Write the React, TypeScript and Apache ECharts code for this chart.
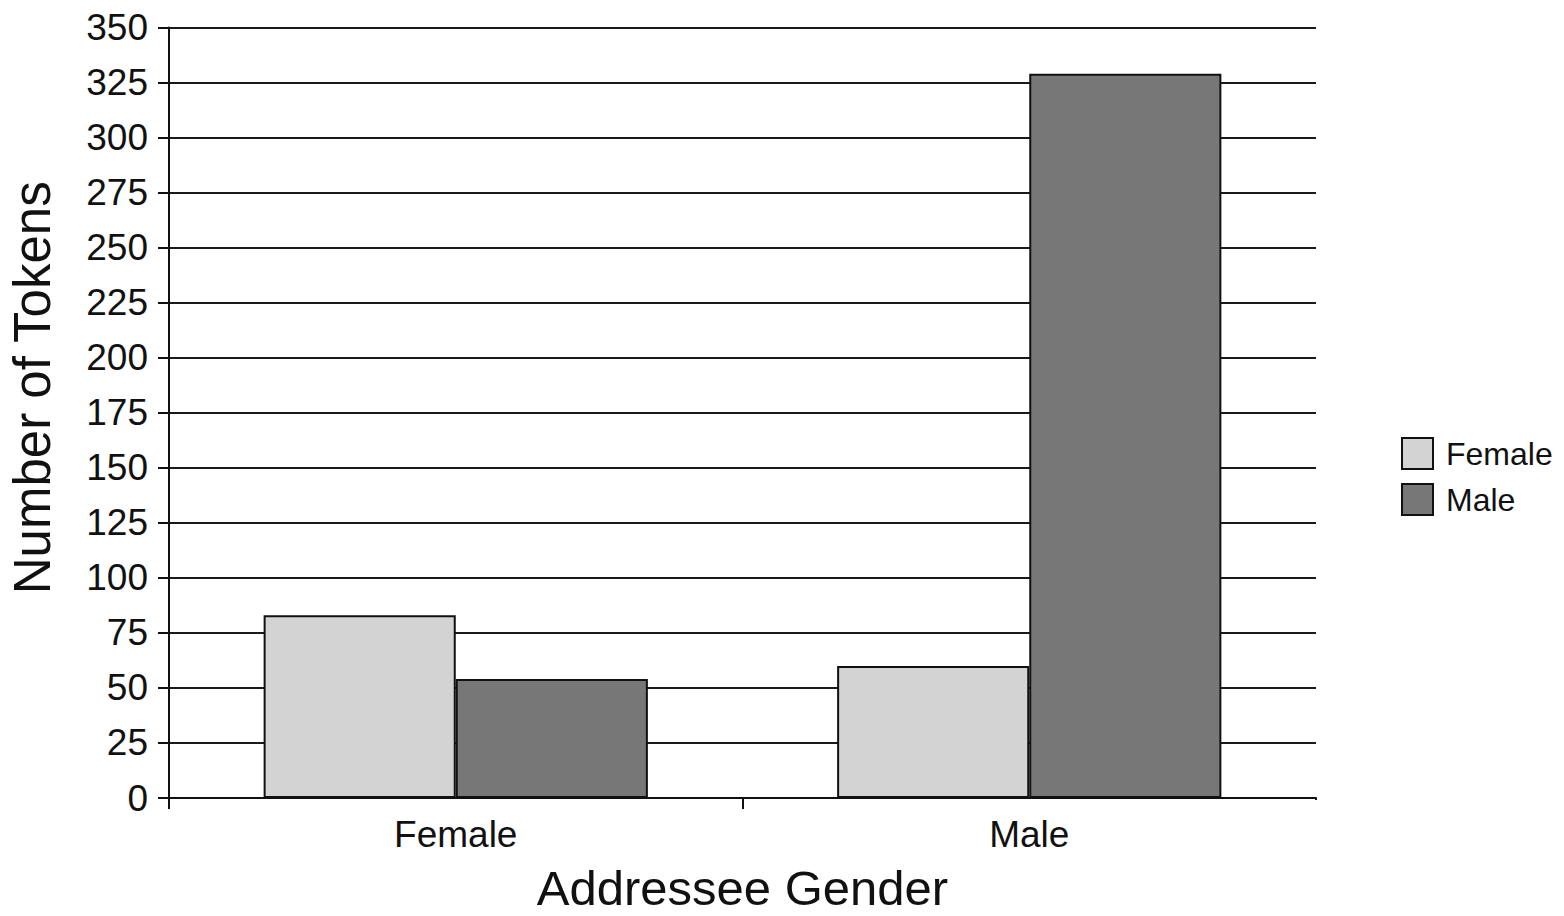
import React, { useEffect, useRef } from "react";
import * as echarts from "echarts";

const categories = ["Female", "Male"];
const seriesNames = ["Female", "Male"];
const femaleValues = [83, 60];
const maleValues = [54, 329];
const yMin = 0;
const yMax = 350;
const yInterval = 25;
const xAxisTitle = "Addressee Gender";
const yAxisTitle = "Number of Tokens";

const FONT = "'Liberation Sans', Arial, sans-serif";

export default function App() {
  const ref = useRef<HTMLDivElement>(null);
  useEffect(() => {
    if (!ref.current) return;
    const chart = echarts.init(ref.current, undefined, { renderer: "svg" });
    const barStyle = (color: string) => ({
      color,
      borderColor: "#111",
      borderWidth: 2,
    });
    chart.setOption({
      animation: false,
      backgroundColor: "#ffffff",
      textStyle: { fontFamily: FONT, color: "#111" },
      grid: {
        left: 169,
        right: 1564 - 1316,
        top: 27.5,
        bottom: 916 - 798,
        containLabel: false,
        outerBoundsMode: "none",
      },
      legend: {
        orient: "vertical",
        left: 1396,
        top: 432,
        itemWidth: 31,
        itemHeight: 31,
        itemGap: 13,
        icon: "rect",
        data: seriesNames,
        itemStyle: { borderColor: "#111", borderWidth: 2 },
        textStyle: { fontFamily: FONT, fontSize: 32, color: "#111", padding: [0, 0, 0, 8] },
      },
      xAxis: {
        type: "category",
        data: categories,
        boundaryGap: true,
        name: xAxisTitle,
        nameLocation: "middle",
        nameGap: 70,
        nameTextStyle: { fontFamily: FONT, fontSize: 49, lineHeight: 40, color: "#111" },
        axisLine: { lineStyle: { color: "#111", width: 2 } },
        axisTick: { show: true, length: 11, lineStyle: { color: "#111", width: 2 } },
        axisLabel: { fontFamily: FONT, fontSize: 37, color: "#111", margin: 18 },
        splitLine: { show: false },
      },
      yAxis: {
        type: "value",
        min: yMin,
        max: yMax,
        interval: yInterval,
        name: yAxisTitle,
        nameLocation: "middle",
        nameGap: 111,
        nameTextStyle: { fontFamily: FONT, fontSize: 51, color: "#111", padding: [0, 0, 0, 50] },
        axisLine: { show: true, lineStyle: { color: "#111", width: 2 } },
        axisTick: { show: true, length: 11, lineStyle: { color: "#111", width: 2 } },
        axisLabel: { fontFamily: FONT, fontSize: 37, color: "#111", margin: 21 },
        splitLine: { show: true, lineStyle: { color: "#1a1a1a", width: 2 } },
      },
      series: [
        {
          name: seriesNames[0],
          type: "bar",
          data: femaleValues,
          barGap: "0%",
          barCategoryGap: "33%",
          itemStyle: barStyle("#d3d3d3"),
        },
        {
          name: seriesNames[1],
          type: "bar",
          data: maleValues,
          barGap: "0%",
          barCategoryGap: "33%",
          itemStyle: barStyle("#777777"),
        },
      ],
      graphic: [
        {
          type: "rect",
          shape: { x: 1310, y: 800, width: 14, height: 14 },
          style: { fill: "#ffffff" },
          z: 100,
        },
      ],
    });
    return () => chart.dispose();
  }, []);
  return (
    <div
      ref={ref}
      style={{ position: "fixed", left: 0, top: 0, width: 1564, height: 916 }}
    />
  );
}
